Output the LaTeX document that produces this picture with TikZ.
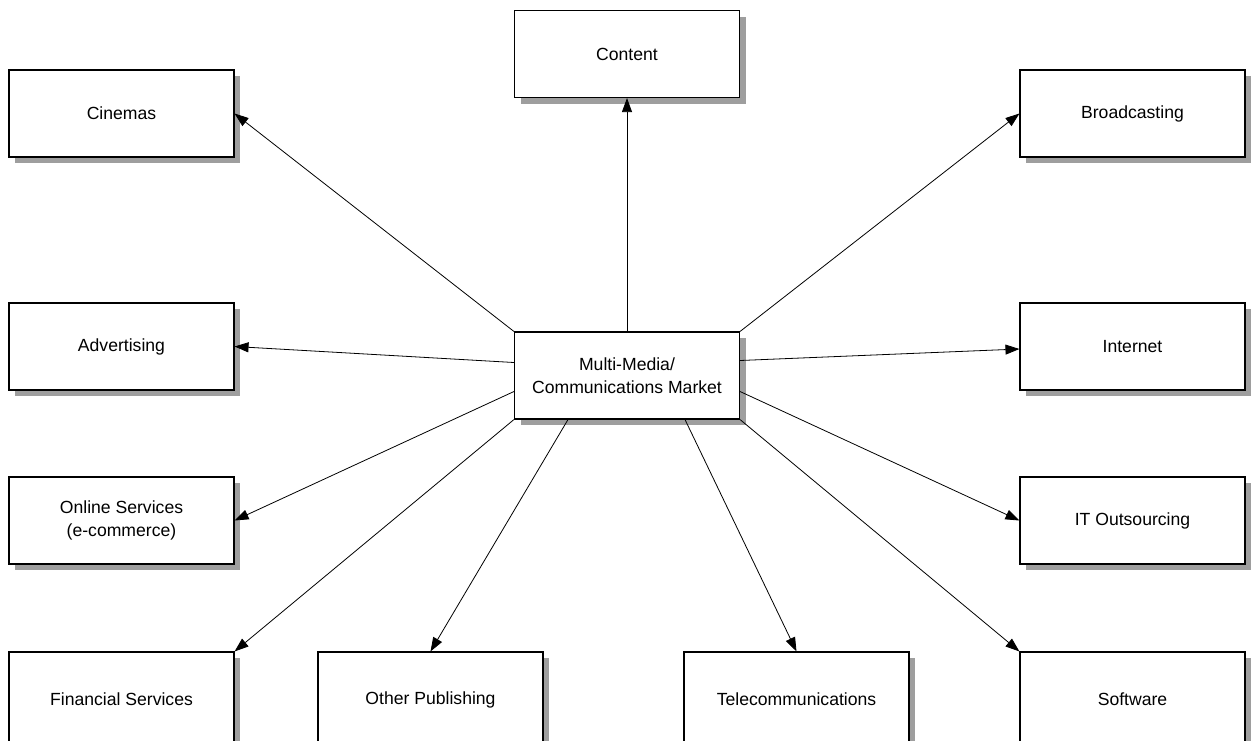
\documentclass[tikz,border=0pt]{standalone}
\usepackage{fontspec}
\setmainfont{Liberation Sans}
\usetikzlibrary{arrows.meta,shadows,calc}
\begin{document}
\begin{tikzpicture}[x=1pt,y=-1pt,
  box/.style={draw=black,line width=1.1pt,fill=white,rectangle,minimum width=225pt,minimum height=87pt,
    inner sep=0pt,align=center,font=\fontsize{17.6}{22.5}\selectfont,
    drop shadow={shadow xshift=6pt,shadow yshift=-6pt,fill=black!38,opacity=1}},
  lowbox/.style={box,minimum height=95pt},
  conn/.style={draw=black,line width=0.8pt,-{Triangle[length=14pt,width=10pt]}}]
\useasboundingbox (0,0) rectangle (1251,740);
\clip (0,0) rectangle (1251,740);
\node[box] (content) at (627,54) {Content};
\node[box] (cin) at (121.5,113.5) {Cinemas};
\node[box] (bro) at (1132.5,113.5) {Broadcasting};
\node[box] (adv) at (121.5,346.5) {Advertising};
\node[box] (net) at (1132.5,346.5) {Internet};
\node[box] (onl) at (121.5,520.5) {Online Services\\(e-commerce)};
\node[box] (ito) at (1132.5,520.5) {IT Outsourcing};
\node[lowbox] (fin) at (121.5,699.5) {Financial Services};
\node[lowbox] (pub) at (430.5,699.5) {Other Publishing};
\node[lowbox] (tel) at (796.5,699.5) {Telecommunications};
\node[lowbox] (sw) at (1132.5,699.5) {Software};
\node[box] (mm) at (627,375.5) {Multi-Media/\\Communications Market};
\draw[conn] (mm.north) -- (content.south);
\draw[conn] (mm.north west) -- (cin.east);
\draw[conn] (mm.north east) -- (bro.west);
\draw[conn] ([yshift=13pt]mm.west) -- (adv.east);
\draw[conn] ([yshift=15pt]mm.east) -- ([yshift=-2.5pt]net.west);
\draw[conn] ([yshift=-16pt]mm.west) -- (onl.east);
\draw[conn] ([yshift=-16pt]mm.east) -- (ito.west);
\draw[conn] (mm.south west) -- (fin.north east);
\draw[conn] ([xshift=-59pt]mm.south) -- (pub.north);
\draw[conn] ([xshift=58pt]mm.south) -- (tel.north);
\draw[conn] (mm.south east) -- (sw.north west);
\end{tikzpicture}
\end{document}
